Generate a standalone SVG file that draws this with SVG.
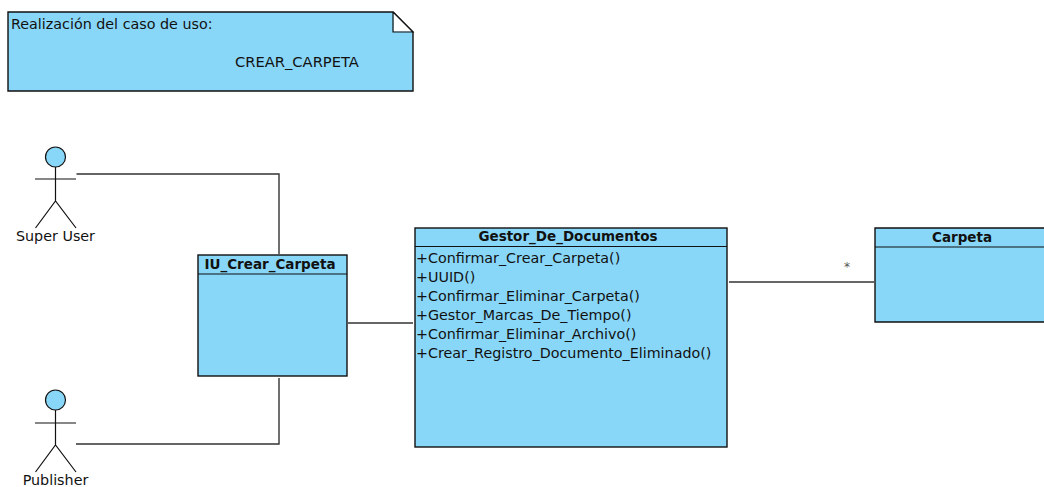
<svg xmlns="http://www.w3.org/2000/svg" width="1044" height="487" viewBox="0 0 1044 487">
<style>
text{font-family:"DejaVu Sans",sans-serif;font-size:14.3px;fill:#111}
.t{font-weight:bold;font-size:13.5px;text-anchor:middle}
.box{fill:#89d7f8;stroke:#111;stroke-width:1.4}
.sep{stroke:#111;stroke-width:1.2;fill:none}
.act{fill:none;stroke:#111;stroke-width:1.2}
.head{fill:#89d7f8;stroke:#111;stroke-width:1.2}
.c{fill:none;stroke:#333;stroke-width:1.4}
.lab{text-anchor:middle}
</style>
<g id="connectors">
<path class="c" d="M76.500 174H279V254"/>
<path class="c" d="M76 444H279V378"/>
<path class="c" d="M348 323H413"/>
<path class="c" d="M729 282H874"/>
<text x="847" y="271" class="lab" style="font-size:12px;fill:#555">*</text>
</g>
<g id="note">
<path class="box" d="M8 12H393L413 32V91H8Z"/>
<path d="M393.500 12.500V31.500H412Z" fill="#fff"/>
<path class="sep" d="M393 12V32H413L393 12"/>
<text x="11" y="29">Realización del caso de uso:</text>
<text x="235" y="67" style="font-size:14.7px">CREAR_CARPETA</text>
</g>
<g id="actor-super-user">
<circle class="head" cx="55.500" cy="157" r="10"/>
<path class="act" d="M55.500 167V201M35 179H76M35.500 228L55.500 201L76 228"/>
<text x="55.500" y="241" class="lab">Super User</text>
</g>
<g id="actor-publisher">
<circle class="head" cx="55.500" cy="400" r="10"/>
<path class="act" d="M55.500 410V445M35 423H76M35.500 472L55.500 445L76 472"/>
<text x="55.500" y="485" class="lab">Publisher</text>
</g>
<g id="iu-crear-carpeta">
<rect class="box" x="198" y="255" width="149" height="121"/>
<path class="sep" d="M198 274H347"/>
<text x="270" y="269" class="t">IU_Crear_Carpeta</text>
</g>
<g id="gestor-de-documentos">
<rect class="box" x="415" y="228" width="312" height="219"/>
<path class="sep" d="M415 246.500H727"/>
<text x="568" y="241" class="t">Gestor_De_Documentos</text>
<text x="416" y="263">+Confirmar_Crear_Carpeta()</text>
<text x="416" y="282">+UUID()</text>
<text x="416" y="301">+Confirmar_Eliminar_Carpeta()</text>
<text x="416" y="320">+Gestor_Marcas_De_Tiempo()</text>
<text x="416" y="339">+Confirmar_Eliminar_Archivo()</text>
<text x="416" y="357.500">+Crear_Registro_Documento_Eliminado()</text>
</g>
<g id="carpeta">
<path class="box" d="M1045 228H875V322H1045"/>
<path class="sep" d="M875 247H1044"/>
<text x="962" y="241.500" class="t">Carpeta</text>
</g>
</svg>
